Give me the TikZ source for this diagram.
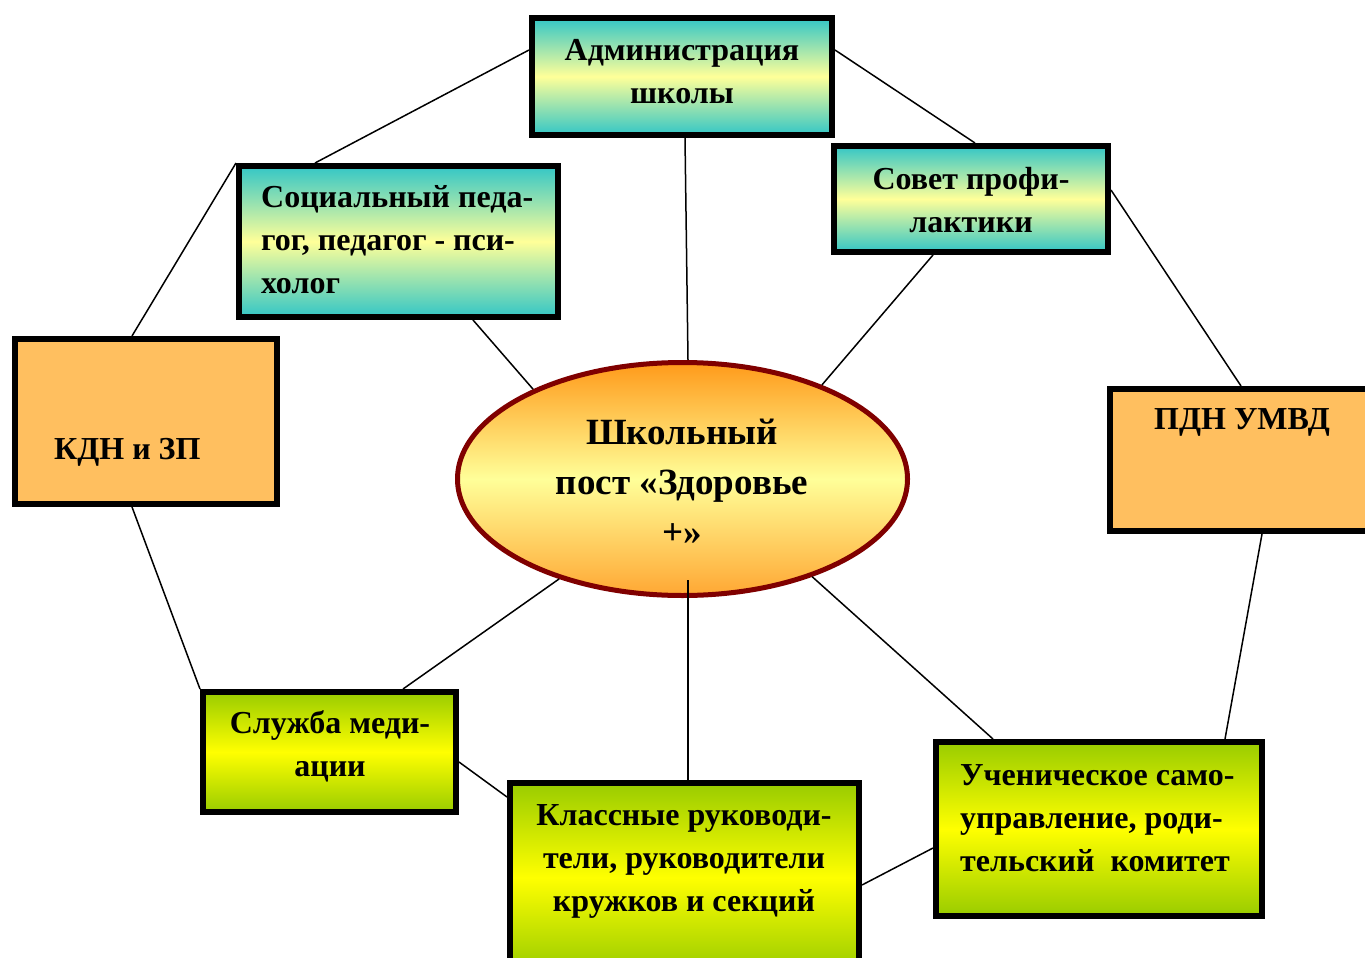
\documentclass[tikz,border=0pt]{standalone}
\usepackage{fontspec}
\setmainfont{Liberation Serif}
\usetikzlibrary{shapes.geometric}
\definecolor{tealc}{HTML}{33C6C6}
\definecolor{lyel}{HTML}{FFFF99}
\definecolor{grn}{HTML}{99CC00}
\definecolor{yel}{HTML}{FFFF00}
\definecolor{orng}{HTML}{FFBF5F}
\definecolor{eorange}{HTML}{FF9A1A}
\definecolor{eorangeb}{HTML}{FFA733}
\definecolor{dred}{HTML}{800000}
\begin{document}
\begin{tikzpicture}[x=1pt,y=-1pt,
  box/.style={draw=black, line width=6pt, inner sep=0pt, rectangle},
  tealbox/.style={box, top color=tealc, bottom color=tealc, middle color=lyel},
  grnbox/.style={box, top color=grn, bottom color=grn, middle color=yel},
  orbox/.style={box, fill=orng},
  txt/.style={font=\fontsize{32}{43}\selectfont\bfseries, inner sep=0pt, align=center},
  ltxt/.style={txt, align=left, anchor=west},
  link/.style={line width=1.5pt, black}]
\useasboundingbox (0,0) rectangle (1365,958);
\fill[white] (0,0) rectangle (1365,958);

% boxes
\node[tealbox, minimum width=300, minimum height=117] (adm) at (682,76.5) {};
\node[tealbox, minimum width=319, minimum height=151] (soc) at (398.5,241.5) {};
\node[tealbox, minimum width=274, minimum height=106] (sov) at (971,199) {};
\node[orbox, minimum width=262, minimum height=165] (kdn) at (146,421.5) {};
\node[orbox, minimum width=262, minimum height=142] (pdn) at (1241,460) {};
\node[ellipse, draw=dred, line width=5pt, inner sep=0pt,
      top color=eorange, bottom color=eorangeb, middle color=lyel,
      minimum width=450, minimum height=233] (ell) at (682.5,479) {};
\node[grnbox, minimum width=253, minimum height=120] (slu) at (329.5,752) {};
\node[grnbox, minimum width=349, minimum height=189] (kla) at (684.5,877.5) {};
\node[grnbox, minimum width=326, minimum height=174] (uch) at (1099,829) {};

% texts
\node[txt] (admT) at (682,72) {Администрация\\школы};
\node[ltxt] (socT) at (261,240) {Социальный педа-\\гог, педагог - пси-\\холог};
\node[txt] (sovT) at (971,200) {Совет профи-\\лактики};
\node[ltxt] (kdnT) at (54,452) {КДН и ЗП};
\node[txt] (pdnT) at (1242,422) {ПДН УМВД};
\node[txt, font=\fontsize{37}{50}\selectfont\bfseries] (ellT) at (682,482) {Школьный\\пост «Здоровье\\+»};
\node[txt] (sluT) at (330,746) {Служба меди-\\ации};
\node[txt] (klaT) at (684,861) {Классные руководи-\\тели, руководители\\кружков и секций};
\node[ltxt] (uchT) at (960,818) {Ученическое само-\\управление, роди-\\тельский\ \ комитет};

% connectors
\draw[link] ([yshift=26.5]adm.west) -- ([xshift=-83.5]soc.north);
\draw[link] (soc.north west) -- ([xshift=-14]kdn.north);
\draw[link] ([xshift=74.5]soc.south) -- (ell.149);
\draw[link] ([xshift=3]adm.south) -- ([xshift=5.5]ell.north);
\draw[link] ([yshift=26.5]adm.east) -- ([xshift=4]sov.north);
\draw[link] ([xshift=-38]sov.south) -- (ell.34);
\draw[link] ([yshift=9]sov.east) -- (pdn.north);
\draw[link] ([xshift=-14]kdn.south) -- (slu.north west);
\draw[link] (ell.219) -- ([xshift=73.5]slu.north);
\draw[link] ([yshift=-10]slu.east) -- ([yshift=80.5]kla.west);
\draw[link] ([xshift=5.5,yshift=18]ell.south) -- ([xshift=3.5]kla.north);
\draw[link] (ell.323) -- ([xshift=-106]uch.north);
\draw[link] ([yshift=-7.5]kla.east) -- ([yshift=-19]uch.west);
\draw[link] ([xshift=21]pdn.south) -- ([xshift=126]uch.north);
\end{tikzpicture}
\end{document}
